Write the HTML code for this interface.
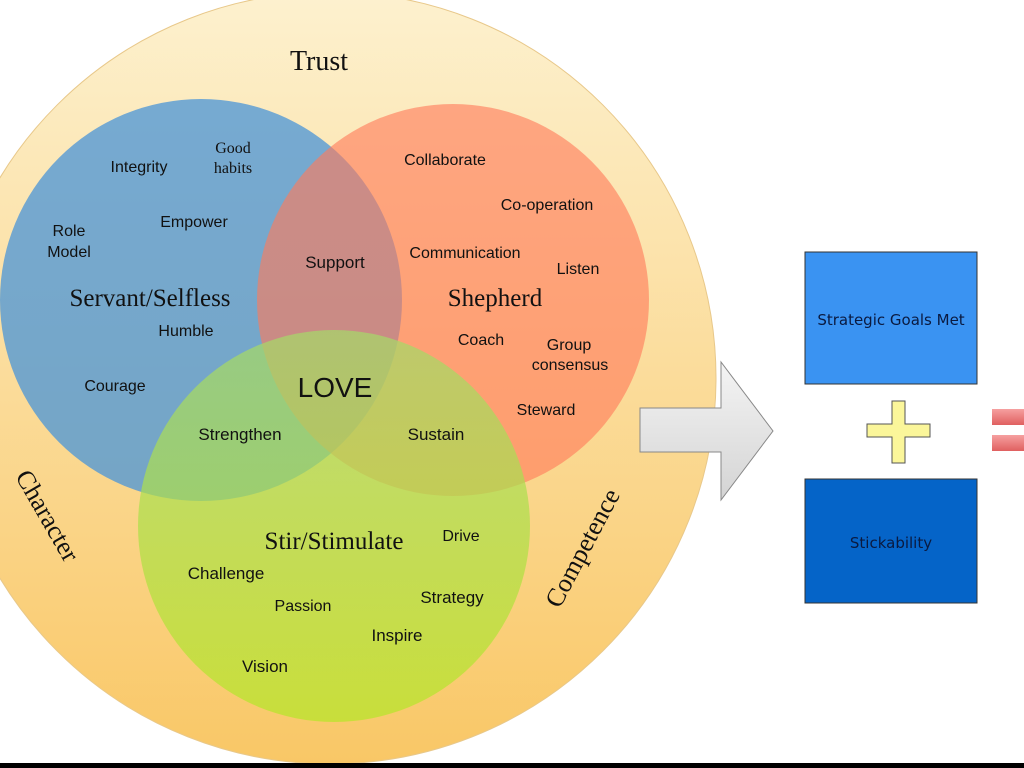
<!DOCTYPE html>
<html><head><style>
html,body{margin:0;padding:0;background:#fff;}
svg{display:block}
</style></head><body>
<svg width="1024" height="768" viewBox="0 0 1024 768" xmlns="http://www.w3.org/2000/svg">
<defs>
<linearGradient id="yg" x1="0" y1="0" x2="0" y2="1">
<stop offset="0" stop-color="#fdf1cf"/><stop offset="1" stop-color="#f9c766"/></linearGradient>
<linearGradient id="gg" x1="0" y1="0" x2="0" y2="1">
<stop offset="0" stop-color="#a5d86a"/><stop offset="1" stop-color="#b6e628"/></linearGradient>
<linearGradient id="ar" x1="0" y1="0" x2="0" y2="1">
<stop offset="0" stop-color="#f4f4f4"/><stop offset="1" stop-color="#d4d4d4"/></linearGradient>
<linearGradient id="pk" x1="0" y1="0" x2="0" y2="1">
<stop offset="0" stop-color="#f6a0a0"/><stop offset="1" stop-color="#e06060"/></linearGradient>
</defs>
<circle cx="330" cy="378" r="386" fill="url(#yg)" stroke="#e8c88a"/>
<circle cx="201" cy="300" r="201" fill="#4f97d6" fill-opacity="0.78"/>
<circle cx="453" cy="300" r="196" fill="#ff7a5a" fill-opacity="0.62"/>
<circle cx="334" cy="526" r="196" fill="url(#gg)" fill-opacity="0.72"/>
<rect x="0" y="763" width="1024" height="5" fill="#000"/>
<g font-family="Liberation Serif, serif" fill="#111">
<text x="319" y="70" font-size="28" text-anchor="middle">Trust</text>
<text x="150" y="306" font-size="25" text-anchor="middle">Servant/Selfless</text>
<text x="495" y="306" font-size="25" text-anchor="middle">Shepherd</text>
<text x="334" y="549" font-size="25" text-anchor="middle">Stir/Stimulate</text>
<text x="40" y="520" font-size="26" text-anchor="middle" transform="rotate(60 40 520)">Character</text>
<text x="590" y="552" font-size="26" text-anchor="middle" transform="rotate(-62 590 552)">Competence</text>
<text x="233" y="153" font-size="16" text-anchor="middle">Good</text>
<text x="233" y="173" font-size="16" text-anchor="middle">habits</text>
</g>
<g font-family="Liberation Sans, sans-serif" fill="#111" font-size="16" text-anchor="middle">
<text x="139" y="172">Integrity</text>
<text x="194" y="227">Empower</text>
<text x="69" y="236">Role</text>
<text x="69" y="257">Model</text>
<text x="186" y="336">Humble</text>
<text x="115" y="391">Courage</text>
<text x="445" y="165">Collaborate</text>
<text x="547" y="210">Co-operation</text>
<text x="465" y="258">Communication</text>
<text x="578" y="274">Listen</text>
<text x="335" y="268" font-size="17">Support</text>
<text x="481" y="345">Coach</text>
<text x="569" y="350">Group</text>
<text x="570" y="370">consensus</text>
<text x="546" y="415">Steward</text>
<text x="335" y="397" font-size="28">LOVE</text>
<text x="240" y="440" font-size="17">Strengthen</text>
<text x="436" y="440" font-size="17">Sustain</text>
<text x="461" y="541">Drive</text>
<text x="226" y="579" font-size="17">Challenge</text>
<text x="303" y="611">Passion</text>
<text x="452" y="603" font-size="17">Strategy</text>
<text x="397" y="641" font-size="17">Inspire</text>
<text x="265" y="672" font-size="17">Vision</text>
</g>
<path d="M640 408 H721 V362 L773 431 L721 500 V452 H640 Z" fill="url(#ar)" stroke="#888"/>
<rect x="805" y="252" width="172" height="132" fill="#3a93f2" stroke="#333"/>
<rect x="805" y="479" width="172" height="124" fill="#0564c8" stroke="#333"/>
<g font-family="DejaVu Sans, Liberation Sans, sans-serif" font-size="15" fill="#0a1a40" text-anchor="middle">
<text x="891" y="325">Strategic Goals Met</text>
<text x="891" y="548">Stickability</text>
</g>
<path d="M892 401 H905 V424 H930 V437 H905 V463 H892 V437 H867 V424 H892 Z" fill="#fbf69a" stroke="#555"/>
<rect x="992" y="409" width="34" height="16" fill="url(#pk)"/>
<rect x="992" y="435" width="34" height="16" fill="url(#pk)"/>
</svg>
</body></html>
